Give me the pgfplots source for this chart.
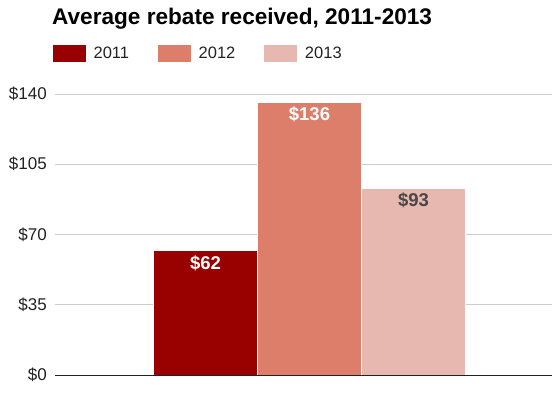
\documentclass[border=0pt]{standalone}
\usepackage{pgfplots}
\pgfplotsset{compat=1.18}
\usepackage{fontspec}
\setmainfont{Liberation Sans}
\definecolor{cA}{HTML}{990000}
\definecolor{cB}{HTML}{DD7E6B}
\definecolor{cC}{HTML}{E6B8AF}
\definecolor{txt}{HTML}{222222}
\definecolor{grd}{HTML}{CCCCCC}
\begin{document}
\begin{tikzpicture}
\useasboundingbox (0,0) rectangle (552pt,398pt);
\begin{axis}[
  at={(55pt,23pt)}, anchor=south west,
  scale only axis, width=497pt, height=281pt,
  xmin=-1.447, xmax=3.332, ymin=0, ymax=140,
  axis x line=bottom, axis y line=left,
  x axis line style={draw=txt, -, line width=0.8pt},
  y axis line style={draw=none},
  xtick=\empty,
  ytick={0,35,70,105,140},
  yticklabel={\$\pgfmathprintnumber{\tick}},
  /pgf/number format/assume math mode=true,
  yticklabel style={font=\fontsize{17}{20}\selectfont, text=txt, inner sep=0pt, xshift=-8pt},
  major tick length=0pt,
  ymajorgrids, grid style={draw=grd, line width=0.8pt},
  ybar, bar width=1, bar shift=0pt,
  title={\textbf{Average rebate received, 2011-2013}},
  title style={font=\fontsize{22.6}{26}\selectfont, text=black, anchor=base west, at={(axis description cs:0,1)}, xshift=-3pt, yshift=63pt, inner sep=0pt},
  legend columns=3,
  legend style={draw=none, fill=none, inner sep=0pt, outer sep=0pt, at={(axis description cs:0,1)}, anchor=north west, xshift=-3pt, yshift=49.5pt, font=\fontsize{16.5}{19}\selectfont, text=txt,
    nodes={inner sep=0pt},
    /tikz/every odd column/.append style={column sep=7pt},
    /tikz/every even column/.append style={column sep=28pt}},
  legend image code/.code={\fill[#1] (0pt,-8.75pt) rectangle (34pt,8.75pt);},
  nodes near coords={\textbf{\$\pgfmathprintnumber{\pgfplotspointmeta}}},
  nodes near coords align={below},
  every node near coord/.append style={font=\fontsize{18.5}{21}\selectfont, inner sep=0pt, yshift=-4.5pt},
]
\addplot[fill=cA, draw=white, line width=0.6pt, every node near coord/.append style={text=white}] coordinates {(0,62)};
\addlegendentry{2011}
\addplot[fill=cB, draw=white, line width=0.6pt, every node near coord/.append style={text=white}] coordinates {(1,136)};
\addlegendentry{2012}
\addplot[fill=cC, draw=white, line width=0.6pt, every node near coord/.append style={text=black!72}] coordinates {(2,93)};
\addlegendentry{2013}
\end{axis}
\end{tikzpicture}
\end{document}
